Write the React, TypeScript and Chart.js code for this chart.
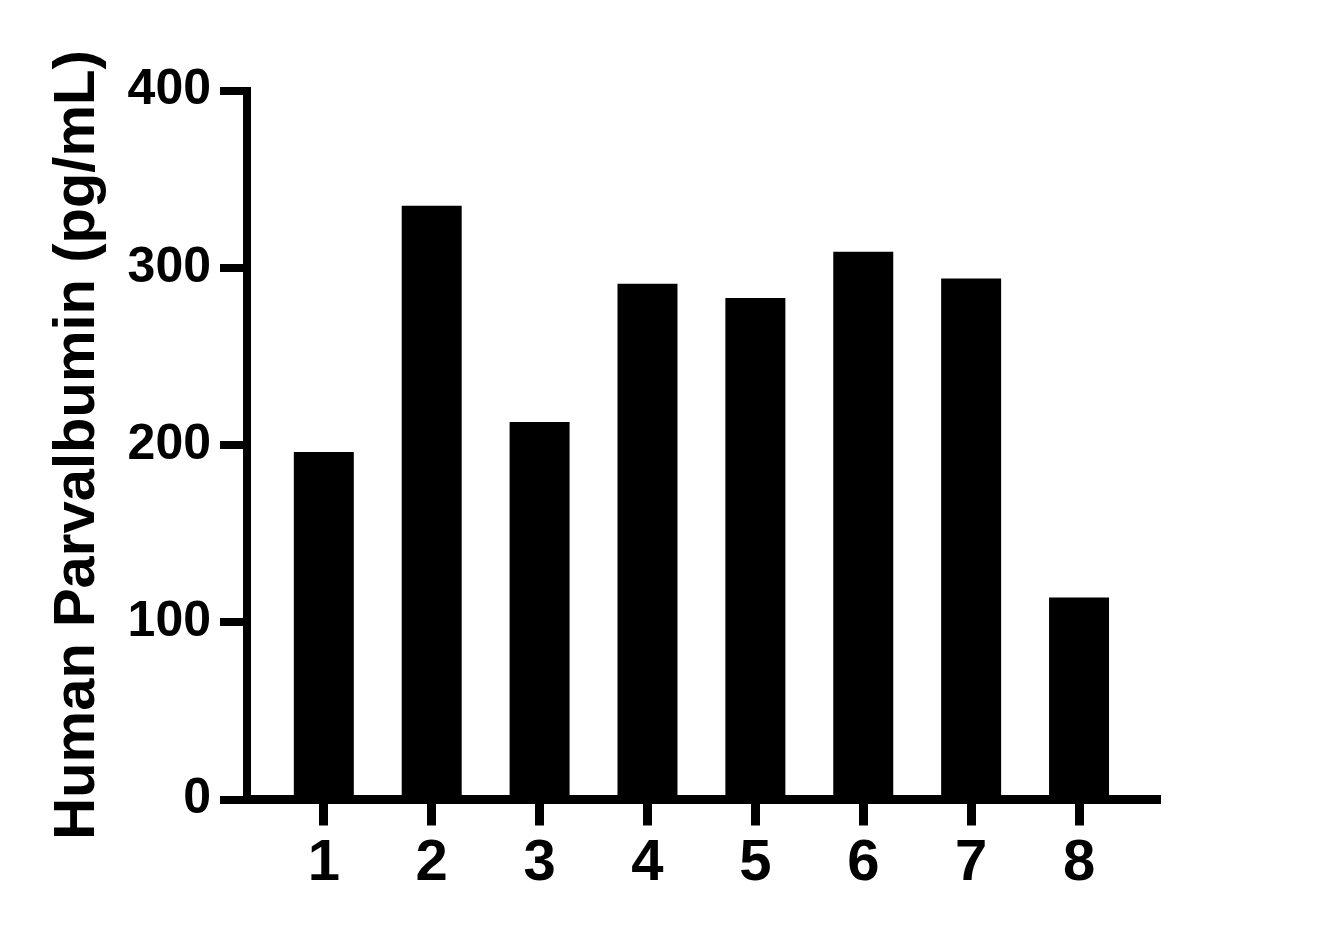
import React, { useEffect, useRef } from "react";
import { Chart, registerables } from "chart.js";

Chart.register(...registerables);

const categories: number[] = [1, 2, 3, 4, 5, 6, 7, 8];
const values: number[] = [196, 335, 213, 291, 283, 309, 294, 114];
const yTicks: number[] = [0, 100, 200, 300, 400];
const yTitle = "Human Parvalbumin (pg/mL)";

const FONT = '"Liberation Sans", Arial, Helvetica, sans-serif';

export default function App() {
  const ref = useRef<HTMLCanvasElement | null>(null);

  useEffect(() => {
    if (!ref.current) return;
    const chart = new Chart(ref.current, {
      type: "bar",
      data: {
        datasets: [
          {
            data: categories.map((c, i) => ({ x: c, y: values[i] })),
            backgroundColor: "#000000",
            borderWidth: 0,
            barPercentage: 0.556,
            categoryPercentage: 1,
          },
        ],
      },
      options: {
        animation: false,
        responsive: false,
        maintainAspectRatio: false,
        layout: { padding: { top: 90.5, right: 181.5, left: 0, bottom: 0 } },
        plugins: {
          legend: { display: false },
          tooltip: { enabled: false },
        },
        scales: {
          x: {
            type: "linear",
            min: 0.288,
            max: 8.718,
            offset: false,
            afterBuildTicks: (scale: any) => {
              scale.ticks = categories.map((v) => ({ value: v }));
            },
            afterFit: (scale: any) => {
              scale.height = 139.5;
            },
            border: { display: true, color: "#000", width: 9 },
            grid: {
              offset: false,
              drawOnChartArea: false,
              drawTicks: true,
              tickLength: 26,
              color: "#000",
              lineWidth: 9,
            },
            ticks: {
              color: "#000",
              padding: 4,
              maxRotation: 0,
              autoSkip: false,
              font: { family: FONT, size: 58, weight: "bold" },
              callback: (v: any) => String(v),
            },
          },
          y: {
            type: "linear",
            min: 0,
            max: 400,
            afterBuildTicks: (scale: any) => {
              scale.ticks = yTicks.map((v) => ({ value: v }));
            },
            afterFit: (scale: any) => {
              scale.width = 247;
            },
            border: { display: true, color: "#000", width: 8 },
            grid: {
              drawOnChartArea: false,
              drawTicks: true,
              tickLength: 27,
              color: "#000",
              lineWidth: 8,
            },
            ticks: {
              color: "#000",
              padding: 9,
              font: { family: FONT, size: 50, weight: "bold" },
              callback: (v: any) => String(v),
            },
            title: {
              display: true,
              text: yTitle,
              color: "#000",
              padding: { top: 43, bottom: 0 },
              font: { family: FONT, size: 58, weight: "bold" },
            },
          },
        },
      },
    } as any);
    return () => chart.destroy();
  }, []);

  return (
    <div style={{ position: "absolute", left: 0, top: 0, width: 1338, height: 939, background: "#fff" }}>
      <canvas ref={ref} width={1338} height={939} style={{ width: 1338, height: 939, display: "block" }} />
    </div>
  );
}
